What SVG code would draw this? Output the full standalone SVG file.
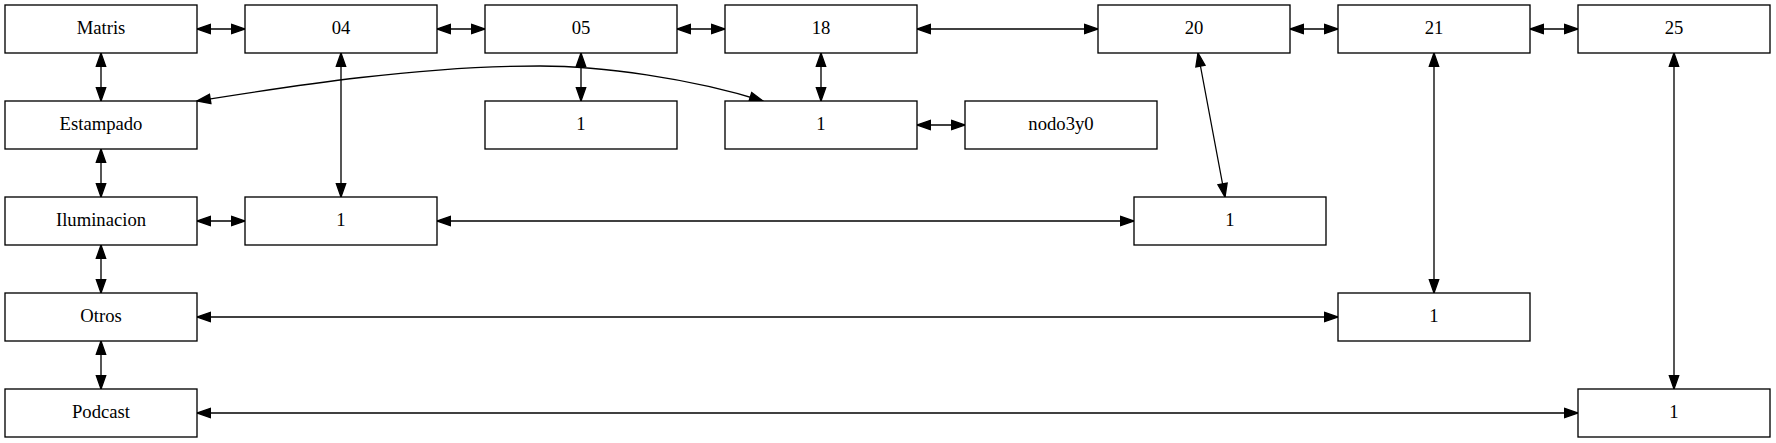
<svg xmlns="http://www.w3.org/2000/svg" width="1776" height="443" viewBox="0 0 1776 443">
<style>
.node rect{fill:#fff;stroke:#000;stroke-width:1.33}
.node text{font-size:18.67px;fill:#000;text-anchor:middle}
#edges path,#edges line{fill:none;stroke:#000;stroke-width:1.33;marker-start:url(#ah);marker-end:url(#ah)}
</style>
<defs>
<marker id="ah" viewBox="0 0 13.33 9.33" refX="13.33" refY="4.67" markerWidth="13.33" markerHeight="9.33" markerUnits="userSpaceOnUse" orient="auto-start-reverse" overflow="visible">
<path d="M0,0 L13.33,4.67 L0,9.33 z" fill="#000" stroke="#000" stroke-width="1.33"/>
</marker>
</defs>
<rect width="1776" height="443" fill="#fff"/>
<g id="edges">
<line x1="197" y1="29" x2="245" y2="29"/>
<line x1="437" y1="29" x2="485" y2="29"/>
<line x1="677" y1="29" x2="725" y2="29"/>
<line x1="917" y1="29" x2="1098" y2="29"/>
<line x1="1290" y1="29" x2="1338" y2="29"/>
<line x1="1530" y1="29" x2="1578" y2="29"/>
<line x1="101" y1="53" x2="101" y2="101"/>
<line x1="101" y1="149" x2="101" y2="197"/>
<line x1="101" y1="245" x2="101" y2="293"/>
<line x1="101" y1="341" x2="101" y2="389"/>
<line x1="341" y1="53" x2="341" y2="197"/>
<line x1="581" y1="53" x2="581" y2="101"/>
<line x1="821" y1="53" x2="821" y2="101"/>
<line x1="917" y1="125" x2="965" y2="125"/>
<line x1="197" y1="221" x2="245" y2="221"/>
<line x1="437" y1="221" x2="1134" y2="221"/>
<line x1="1198" y1="53" x2="1225" y2="197"/>
<line x1="1434" y1="53" x2="1434" y2="293"/>
<line x1="1674" y1="53" x2="1674" y2="389"/>
<line x1="197" y1="317" x2="1338" y2="317"/>
<line x1="197" y1="413" x2="1578" y2="413"/>
<path d="M197,101 C297,85 420,66 540,66 C600,66 690,78 763,101"/>
</g>
<g font-family="'Liberation Serif', serif">
<g id="n_matris" class="node"><rect x="5" y="5" width="192" height="48"/><text x="101" y="34">Matris</text></g>
<g id="n_04" class="node"><rect x="245" y="5" width="192" height="48"/><text x="341" y="34">04</text></g>
<g id="n_05" class="node"><rect x="485" y="5" width="192" height="48"/><text x="581" y="34">05</text></g>
<g id="n_18" class="node"><rect x="725" y="5" width="192" height="48"/><text x="821" y="34">18</text></g>
<g id="n_20" class="node"><rect x="1098" y="5" width="192" height="48"/><text x="1194" y="34">20</text></g>
<g id="n_21" class="node"><rect x="1338" y="5" width="192" height="48"/><text x="1434" y="34">21</text></g>
<g id="n_25" class="node"><rect x="1578" y="5" width="192" height="48"/><text x="1674" y="34">25</text></g>
<g id="n_estampado" class="node"><rect x="5" y="101" width="192" height="48"/><text x="101" y="130">Estampado</text></g>
<g id="n_05_1" class="node"><rect x="485" y="101" width="192" height="48"/><text x="581" y="130">1</text></g>
<g id="n_18_1" class="node"><rect x="725" y="101" width="192" height="48"/><text x="821" y="130">1</text></g>
<g id="n_nodo3y0" class="node"><rect x="965" y="101" width="192" height="48"/><text x="1061" y="130">nodo3y0</text></g>
<g id="n_iluminacion" class="node"><rect x="5" y="197" width="192" height="48"/><text x="101" y="226">Iluminacion</text></g>
<g id="n_04_1" class="node"><rect x="245" y="197" width="192" height="48"/><text x="341" y="226">1</text></g>
<g id="n_20_1" class="node"><rect x="1134" y="197" width="192" height="48"/><text x="1230" y="226">1</text></g>
<g id="n_otros" class="node"><rect x="5" y="293" width="192" height="48"/><text x="101" y="322">Otros</text></g>
<g id="n_21_1" class="node"><rect x="1338" y="293" width="192" height="48"/><text x="1434" y="322">1</text></g>
<g id="n_podcast" class="node"><rect x="5" y="389" width="192" height="48"/><text x="101" y="418">Podcast</text></g>
<g id="n_25_1" class="node"><rect x="1578" y="389" width="192" height="48"/><text x="1674" y="418">1</text></g>
</g>
</svg>
